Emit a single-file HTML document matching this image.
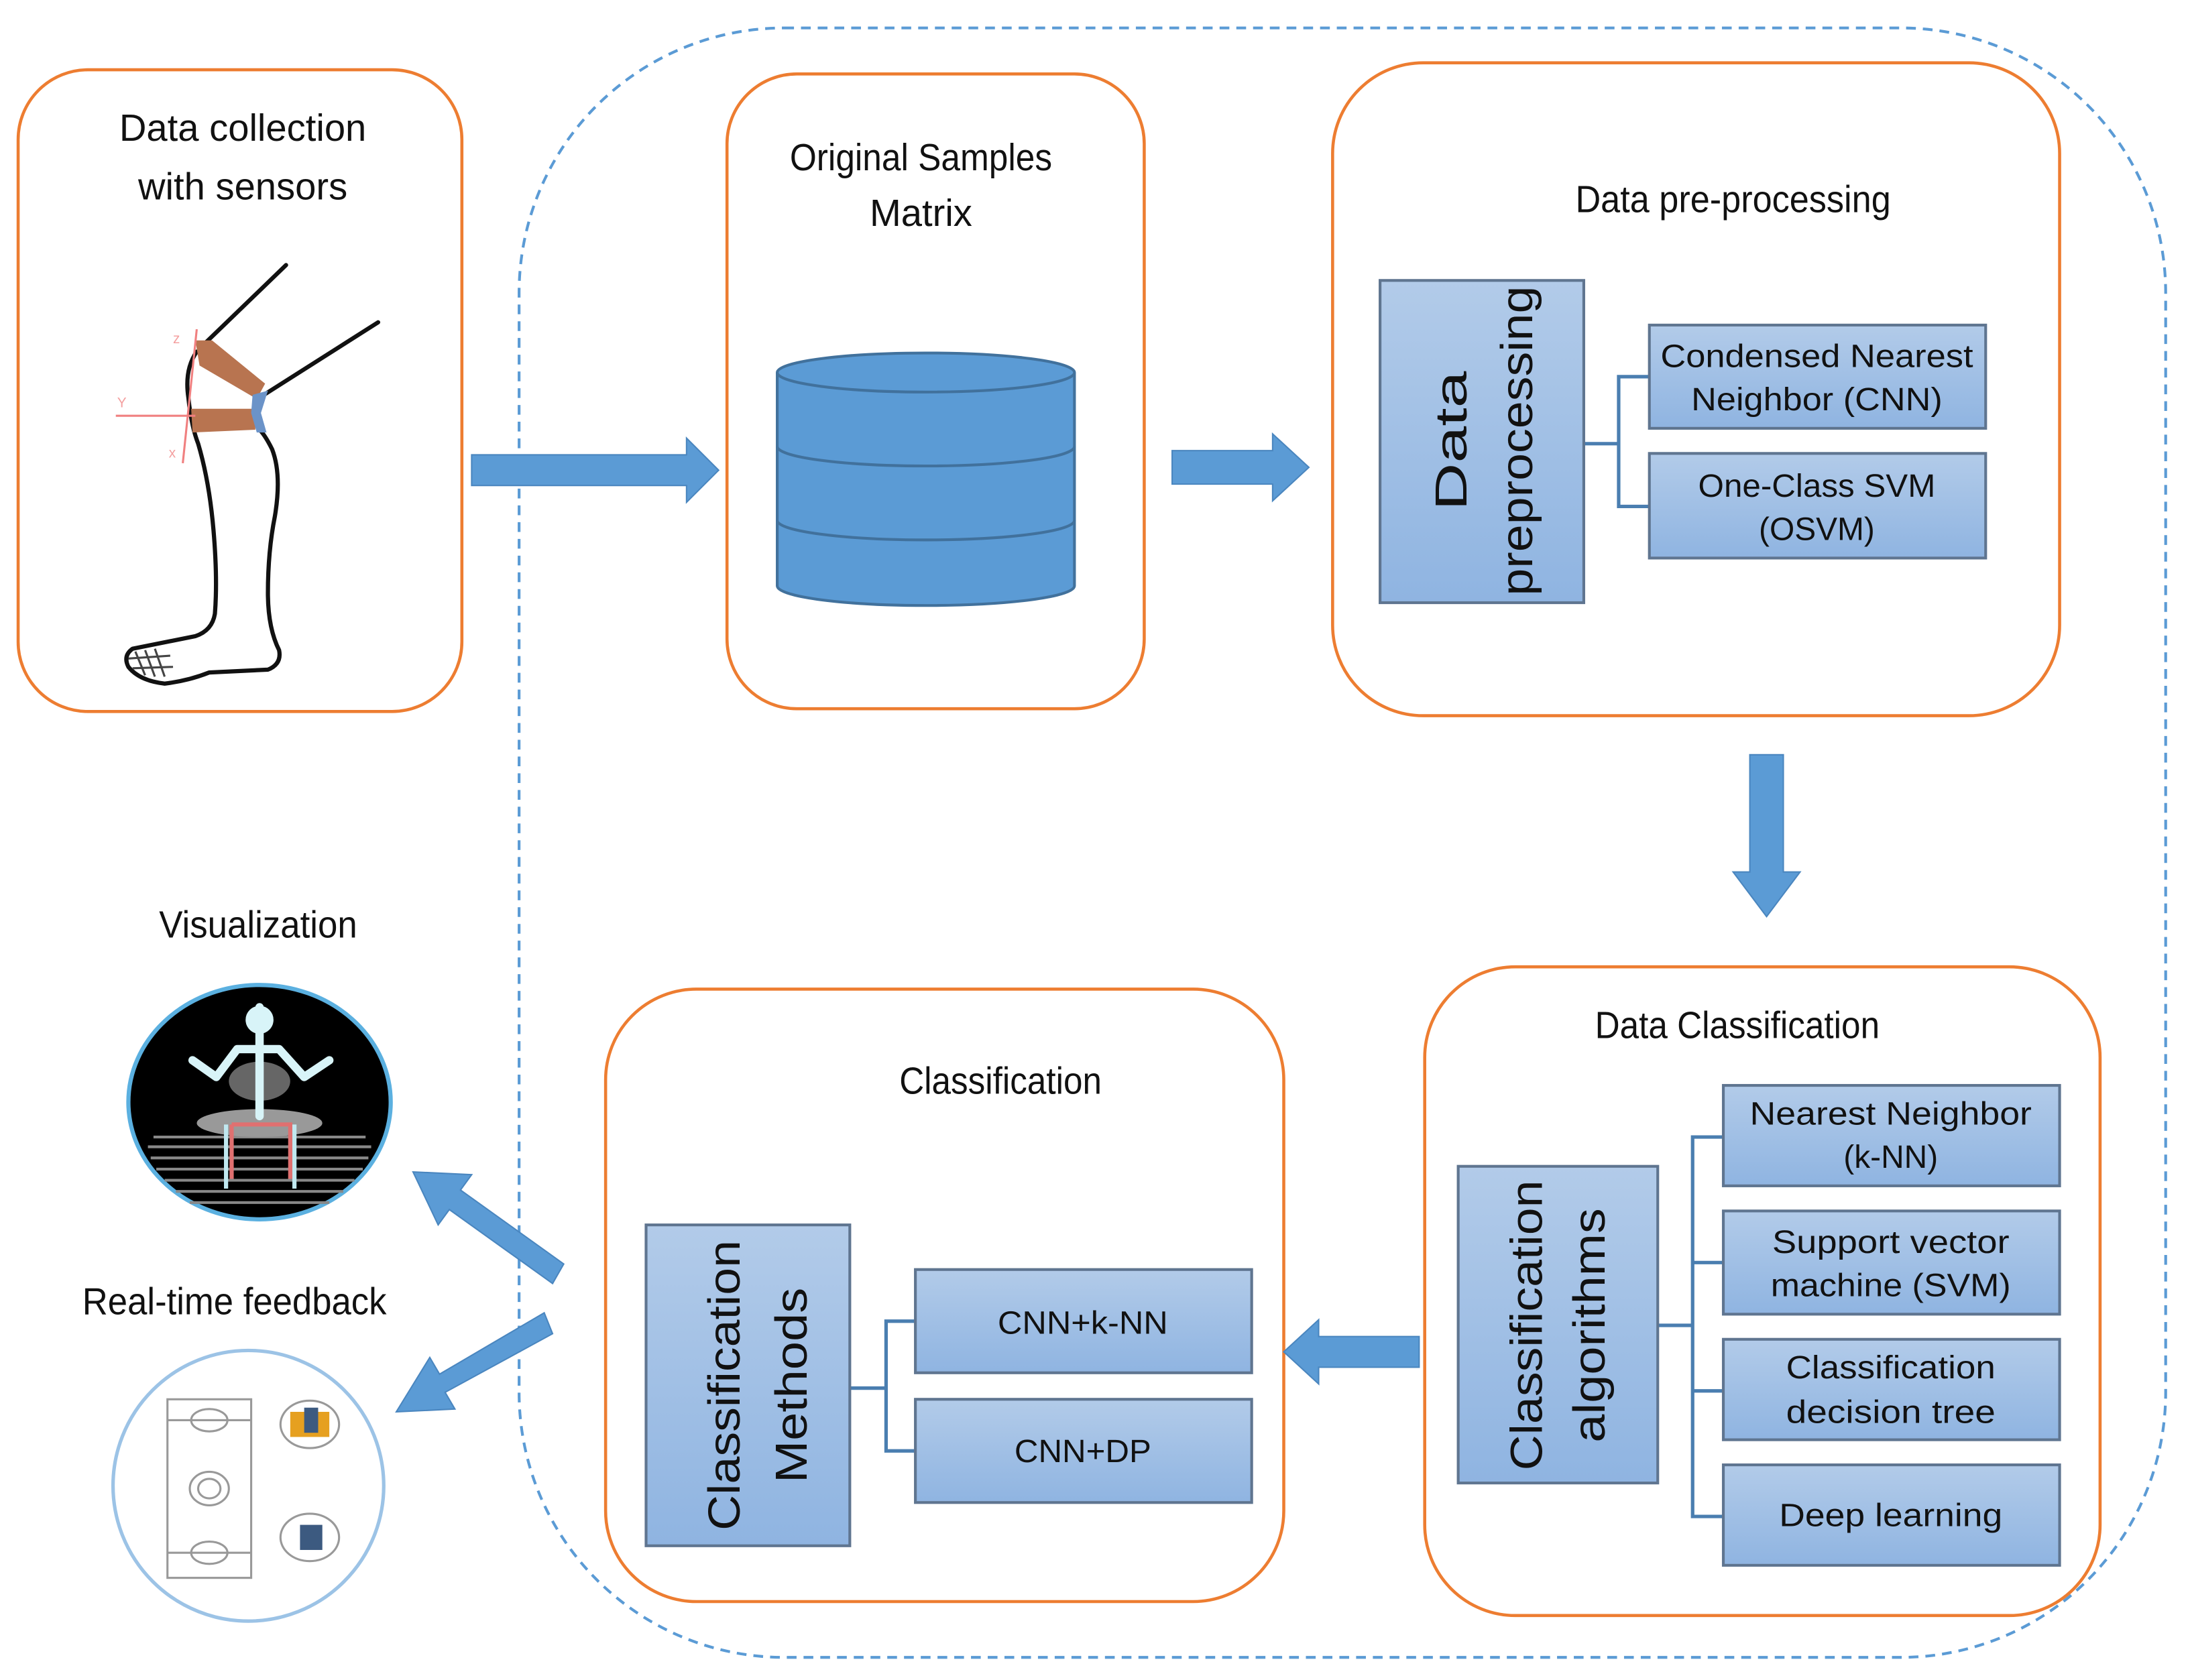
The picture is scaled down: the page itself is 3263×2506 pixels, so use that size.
<!DOCTYPE html>
<html><head><meta charset="utf-8"><style>html,body{margin:0;padding:0;background:#fff}svg{display:block}</style></head>
<body>
<svg width="3263" height="2506" viewBox="0 0 1568 1204.2" xmlns="http://www.w3.org/2000/svg" font-family="Liberation Sans, sans-serif">
<defs>
<linearGradient id="g" x1="0" y1="0" x2="0" y2="1"><stop offset="0" stop-color="#b2cbe9"/><stop offset="1" stop-color="#8fb4e1"/></linearGradient>
</defs>
<rect x="0" y="0" width="1568" height="1205" fill="#fff"/>
<rect x="372" y="20" width="1180" height="1168" rx="190" fill="none" stroke="#5b9bd5" stroke-width="2" stroke-dasharray="7,5"/>
<g fill="none" stroke="#ed7d31" stroke-width="2.2">
<rect x="13" y="50" width="318" height="460" rx="50"/>
<rect x="521" y="53" width="299" height="455" rx="50"/>
<rect x="955" y="45" width="521" height="468" rx="65"/>
<rect x="1021" y="693" width="484" height="465" rx="65"/>
<rect x="434" y="709" width="486" height="439" rx="65"/>
</g>
<g font-size="27" fill="#111" text-anchor="middle">
<text x="174" y="101">Data collection</text>
<text x="174" y="143">with sensors</text>
<text x="660" y="122" textLength="188" lengthAdjust="spacingAndGlyphs">Original Samples</text>
<text x="660" y="162">Matrix</text>
<text x="1242" y="152" textLength="226" lengthAdjust="spacingAndGlyphs">Data pre-processing</text>
<text x="1245" y="744" textLength="204" lengthAdjust="spacingAndGlyphs">Data Classification</text>
<text x="717" y="784" textLength="145" lengthAdjust="spacingAndGlyphs">Classification</text>
<text x="185" y="672" textLength="142" lengthAdjust="spacingAndGlyphs">Visualization</text>
<text x="168" y="942" textLength="218" lengthAdjust="spacingAndGlyphs">Real-time feedback</text>
</g>
<g fill="#5b9bd5" stroke="#41719c" stroke-width="2">
<path d="M557,267 V420 A106.5,14 0 0 0 770,420 V267"/>
<ellipse cx="663.5" cy="267" rx="106.5" ry="14"/>
<path d="M557,320 A106.5,14 0 0 0 770,320 M557,373 A106.5,14 0 0 0 770,373" fill="none"/>
</g>
<g fill="#5b9bd5" stroke="#4a86bf" stroke-width="1">
<path d="M338,326 H492 V314 L515,337 L492,360 V348 H338 Z"/>
<path d="M840,323 H912 V311 L938,335 L912,359 V347 H840 Z"/>
<path d="M1254,541 H1278 V625 H1290 L1266,657 L1242,625 H1254 Z"/>
<path d="M1017,958 H945 V946 L920,969 L945,992 V980 H1017 Z"/>
<path d="M404,906 L330,853 L338,842 L296,840 L314,878 L322,867 L396,920 Z"/>
<path d="M390,941 L315,985 L308,973 L284,1012 L326,1010 L319,998 L396,956 Z"/>
</g>
<g fill="none" stroke="#4a7eb0" stroke-width="2.5">
<path d="M1135,318 H1160 M1182,270 H1160 V363 H1182"/>
<path d="M1188,950 H1213 M1235,815 H1213 V1087 H1235 M1213,905 H1235 M1213,997 H1235"/>
<path d="M609,995 H635 M656,947 H635 V1040 H656"/>
</g>
<g fill="url(#g)" stroke="#5f7590" stroke-width="2">
<rect x="989" y="201" width="146" height="231"/>
<rect x="1182" y="233" width="241" height="74"/>
<rect x="1182" y="325" width="241" height="75"/>
<rect x="1045" y="836" width="143" height="227"/>
<rect x="1235" y="778" width="241" height="72"/>
<rect x="1235" y="868" width="241" height="74"/>
<rect x="1235" y="960" width="241" height="72"/>
<rect x="1235" y="1050" width="241" height="72"/>
<rect x="463" y="878" width="146" height="230"/>
<rect x="656" y="910" width="241" height="74"/>
<rect x="656" y="1003" width="241" height="74"/>
</g>
<g font-size="23" fill="#111" text-anchor="middle">
<text x="1302" y="263" textLength="224" lengthAdjust="spacingAndGlyphs">Condensed Nearest</text>
<text x="1302" y="294" textLength="180" lengthAdjust="spacingAndGlyphs">Neighbor (CNN)</text>
<text x="1302" y="356" textLength="170" lengthAdjust="spacingAndGlyphs">One-Class SVM</text>
<text x="1302" y="387">(OSVM)</text>
<text x="1355" y="806" textLength="202" lengthAdjust="spacingAndGlyphs">Nearest Neighbor</text>
<text x="1355" y="837">(k-NN)</text>
<text x="1355" y="898" textLength="170" lengthAdjust="spacingAndGlyphs">Support vector</text>
<text x="1355" y="929" textLength="172" lengthAdjust="spacingAndGlyphs">machine (SVM)</text>
<text x="1355" y="988" textLength="150" lengthAdjust="spacingAndGlyphs">Classification</text>
<text x="1355" y="1020" textLength="150" lengthAdjust="spacingAndGlyphs">decision tree</text>
<text x="1355" y="1094" textLength="160" lengthAdjust="spacingAndGlyphs">Deep learning</text>
<text x="776" y="956" textLength="122" lengthAdjust="spacingAndGlyphs">CNN+k-NN</text>
<text x="776" y="1048" textLength="98" lengthAdjust="spacingAndGlyphs">CNN+DP</text>
</g>
<g font-size="32" fill="#111" text-anchor="middle">
<text transform="translate(1051,316) rotate(-90)" textLength="100" lengthAdjust="spacingAndGlyphs">Data</text>
<text transform="translate(1098,316) rotate(-90)" textLength="222" lengthAdjust="spacingAndGlyphs">preprocessing</text>
<text transform="translate(1105,950) rotate(-90)" textLength="208" lengthAdjust="spacingAndGlyphs">Classification</text>
<text transform="translate(1150,950) rotate(-90)" textLength="168" lengthAdjust="spacingAndGlyphs">algorithms</text>
<text transform="translate(530,993) rotate(-90)" textLength="208" lengthAdjust="spacingAndGlyphs">Classification</text>
<text transform="translate(578,993) rotate(-90)" textLength="140" lengthAdjust="spacingAndGlyphs">Methods</text>
</g>
<!-- leg -->
<g fill="none" stroke="#111" stroke-width="3" stroke-linecap="round" stroke-linejoin="round">
<path d="M148,245 L205,190"/>
<path d="M186,285 L271,231"/>
<path d="M141,252 Q132,265 135,285 Q137,305 142,318 Q150,345 153,380 Q156,415 154,440 Q152,452 140,456 Q110,462 95,465 Q88,470 92,478 Q100,488 118,490 Q135,488 150,482 L192,480 Q202,476 200,466 Q192,450 192,425 Q192,395 197,370 Q202,340 195,322 Q190,312 186,308"/>
</g>
<g stroke="#444" stroke-width="1.5"><path d="M97,467 L104,484 M104,466 L111,485 M111,465 L118,485 M92,472 L122,470 M95,479 L124,478"/></g>
<path d="M140,244 L152,244 L190,275 L184,286 L143,262 Z" fill="#b87450"/>
<path d="M137,293 L183,293 L183,308 L138,310 Z" fill="#b87450"/>
<path d="M181,283 L192,280 L187,296 L191,310 L184,310 L180,296 Z" fill="#6b93c8"/>
<g stroke="#f08080" stroke-width="1.5" fill="none"><path d="M141,236 L131,332 M83,298 L140,298"/></g>
<g fill="#f4a0a0" font-size="10"><text x="124" y="246">z</text><text x="84" y="292">Y</text><text x="121" y="328">x</text></g>
<!-- visualization -->
<ellipse cx="186" cy="790" rx="94" ry="84" fill="#000" stroke="#5bb0e0" stroke-width="3"/>
<g fill="none" stroke="#888" stroke-width="2"><path d="M110,815 H262 M106,822 H266 M108,830 H264 M112,838 H260 M118,846 H254 M126,854 H246 M136,862 H236"/></g>
<ellipse cx="186" cy="805" rx="45" ry="10" fill="#999"/>
<ellipse cx="186" cy="775" rx="22" ry="14" fill="#666"/>
<g fill="none" stroke="#d8f4f8" stroke-width="6" stroke-linecap="round" stroke-linejoin="round">
<path d="M186,722 V800 M138,760 L155,772 L170,752 H200 L218,772 L236,760"/>
<circle cx="186" cy="731" r="7" fill="#d8f4f8"/>
</g>
<g fill="none" stroke="#e07070" stroke-width="3"><path d="M166,806 V845 M166,806 H208 V845"/></g>
<g fill="none" stroke="#c0e8f0" stroke-width="3"><path d="M162,806 V852 M211,806 V852"/></g>
<!-- feedback -->
<circle cx="178" cy="1065" r="97" fill="#fff" stroke="#9cc3e6" stroke-width="2.5"/>
<g fill="none" stroke="#999" stroke-width="1.5">
<rect x="120" y="1003" width="60" height="128"/>
<path d="M120,1018 H180 M120,1113 H180"/>
<ellipse cx="150" cy="1018" rx="13" ry="8"/><ellipse cx="150" cy="1113" rx="13" ry="8"/>
<ellipse cx="150" cy="1067" rx="14" ry="12"/><ellipse cx="150" cy="1067" rx="8" ry="7"/>
<ellipse cx="222" cy="1021" rx="21" ry="17"/><ellipse cx="222" cy="1102" rx="21" ry="17"/>
</g>
<rect x="208" y="1012" width="28" height="18" fill="#e6a020"/>
<rect x="218" y="1009" width="10" height="18" fill="#3c5a80"/>
<rect x="215" y="1093" width="16" height="18" fill="#3c5a80"/>
</svg>
</body></html>
